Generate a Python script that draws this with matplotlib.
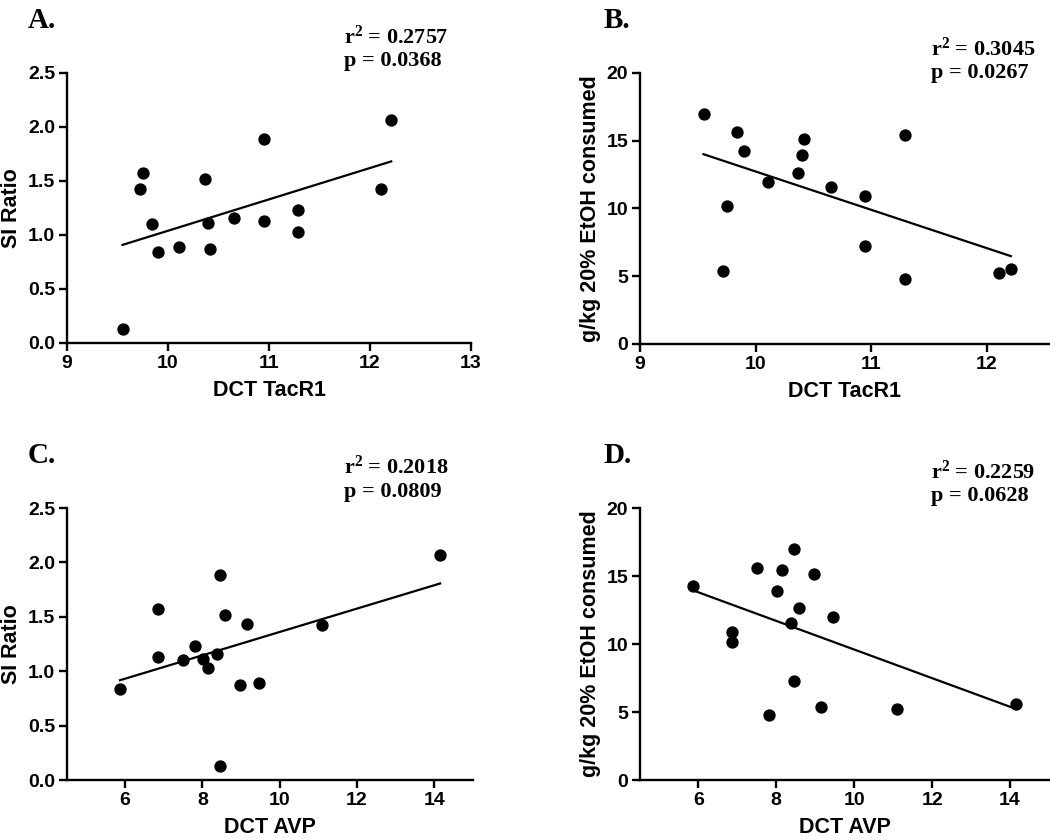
import numpy as np
import matplotlib
matplotlib.use("Agg")
import matplotlib.pyplot as plt

# one entry per animal
tacr1 = [9.55, 9.72, 9.75, 9.84, 9.90, 10.11, 10.37, 10.40, 10.42, 10.65, 10.95, 10.95, 11.29, 11.29, 12.11, 12.21]
avp = [8.46, 9.16, 6.86, 7.51, 5.87, 9.46, 8.59, 8.01, 8.98, 8.39, 8.46, 6.86, 7.82, 8.14, 11.10, 14.15]
si_ratio = [0.13, 1.43, 1.575, 1.10, 0.84, 0.89, 1.515, 1.115, 0.87, 1.16, 1.885, 1.13, 1.23, 1.03, 1.425, 2.065]
etoh = [16.98, 5.38, 10.15, 15.62, 14.25, 11.97, 12.65, 13.92, 15.15, 11.57, 7.25, 10.92, 4.80, 15.45, 5.22, 5.57]

panel_letters = ["A.", "B.", "C.", "D."]
r2_text = ["0.2757", "0.3045", "0.2018", "0.2259"]
p_text = ["0.0368", "0.0267", "0.0809", "0.0628"]

sans = "Liberation Sans"
serif = "Liberation Serif"

plt.rcParams["mathtext.fontset"] = "custom"
plt.rcParams["mathtext.rm"] = "Liberation Serif:bold"
plt.rcParams["mathtext.bf"] = "Liberation Serif:bold"
plt.rcParams["mathtext.default"] = "rm"

fig = plt.figure(figsize=(10.5, 8.4), dpi=100)

# axes rectangles in figure fractions
rects = [
    [0.0638, 0.5917, 0.3848, 0.3214],
    [0.6095, 0.5905, 0.3895, 0.3226],
    [0.0638, 0.0714, 0.3867, 0.3238],
    [0.6095, 0.0714, 0.3895, 0.3238],
]

specs = [
    (tacr1, si_ratio, "DCT TacR1", "SI Ratio", (9, 13), [9, 10, 11, 12, 13], (0, 2.5), [0, 0.5, 1.0, 1.5, 2.0, 2.5], "{:.1f}"),
    (tacr1, etoh, "DCT TacR1", "g/kg 20% EtOH consumed", (9, 12.54), [9, 10, 11, 12], (0, 20), [0, 5, 10, 15, 20], "{:.0f}"),
    (avp, si_ratio, "DCT AVP", "SI Ratio", (4.5, 15), [6, 8, 10, 12, 14], (0, 2.5), [0, 0.5, 1.0, 1.5, 2.0, 2.5], "{:.1f}"),
    (avp, etoh, "DCT AVP", "g/kg 20% EtOH consumed", (4.5, 15), [6, 8, 10, 12, 14], (0, 20), [0, 5, 10, 15, 20], "{:.0f}"),
]

letter_pos = [(0.026, 0.975), (0.575, 0.975), (0.026, 0.458), (0.575, 0.458)]
stat_pos = [(0.328, 0.943), (0.887, 0.928), (0.328, 0.430), (0.887, 0.425)]

for i, (x, y, xl, yl, xlim, xt, ylim, yt, fmt) in enumerate(specs):
    ax = fig.add_axes(rects[i])
    x = np.array(x)
    y = np.array(y)
    ax.scatter(x, y, s=62, color="black", zorder=3, clip_on=False)
    k, b = np.polyfit(x, y, 1)
    xs = np.array([x.min(), x.max()])
    ax.plot(xs, k * xs + b, color="black", lw=1.6)

    ax.set_xlim(*xlim)
    ax.set_ylim(*ylim)
    ax.set_xticks(xt)
    ax.set_yticks(yt)
    ax.set_yticklabels([fmt.format(v) for v in yt])
    for s in ["top", "right"]:
        ax.spines[s].set_visible(False)
    for s in ["left", "bottom"]:
        ax.spines[s].set_linewidth(1.7)
    ax.tick_params(direction="out", length=5.5, width=1.7, labelsize=14, pad=3)
    for lab in ax.get_xticklabels() + ax.get_yticklabels():
        lab.set_fontfamily(sans)
        lab.set_fontweight("bold")
    ax.set_xlabel(xl, fontsize=15.5, fontweight="bold", family=sans, labelpad=6)
    ax.set_ylabel(yl, fontsize=15.5, fontweight="bold", family=sans, labelpad=4)

    lx, ly = letter_pos[i]
    fig.text(lx, ly, panel_letters[i], fontsize=21, fontweight="bold", family=serif, va="center")
    sx, sy = stat_pos[i]
    fig.text(sx, sy, r"r$^{2}$ = " + r2_text[i] + "\np = " + p_text[i],
             fontsize=16, fontweight="bold", family=serif, va="center", linespacing=1.15)

fig.savefig("out.png", dpi=100)
